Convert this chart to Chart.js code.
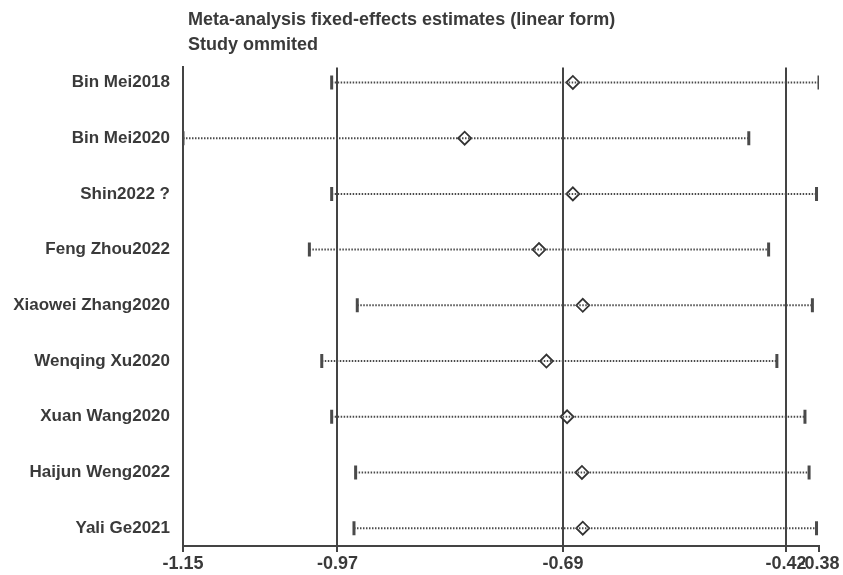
<!DOCTYPE html>
<html>
<head>
<meta charset="utf-8">
<script src="https://cdn.jsdelivr.net/npm/chart.js@4"></script>
<style>
  body { margin: 0; background: #fff; }
  #wrap { width: 843px; height: 575px; }
</style>
</head>
<body>
<div id="wrap"><canvas id="influence-chart"></canvas></div>
<script>
// studies omitted, top to bottom
const studies = [
  "Bin Mei2018",
  "Bin Mei2020",
  "Shin2022 ?",
  "Feng Zhou2022",
  "Xiaowei Zhang2020",
  "Wenqing Xu2020",
  "Xuan Wang2020",
  "Haijun Weng2022",
  "Yali Ge2021",
];
const estimates = [-0.678, -0.809, -0.678, -0.719, -0.666, -0.710, -0.685, -0.667, -0.666];
const lowerCI = [-0.970, -1.150, -0.970, -0.997, -0.939, -0.982, -0.970, -0.941, -0.943];
const upperCI = [-0.380, -0.465, -0.383, -0.441, -0.388, -0.431, -0.397, -0.392, -0.383];

// x axis ticks (min, pooled lower, pooled estimate, pooled upper, max)
const tickValues = [-1.15, -0.963, -0.69, -0.42, -0.38];
const tickLabels = ["-1.15", "-0.97", "-0.69", "-0.42", "-0.38"];

const ink = "#3a3a3a";
const family = "'Liberation Sans', Arial, sans-serif";

// one dotted line per study, with vertical end caps
const ciSets = studies.map((s, i) => ({
  label: s,
  data: [
    { x: lowerCI[i], y: i + 1 },
    { x: upperCI[i], y: i + 1 },
  ],
  showLine: true,
  borderColor: "#4a4a4a",
  borderWidth: 2,
  borderDash: [1.5, 1.5],
  pointStyle: "line",
  rotation: 90,
  pointRadius: 7,
  pointBorderWidth: 3,
  pointBorderColor: "#4a4a4a",
}));

new Chart(document.getElementById("influence-chart"), {
  type: "scatter",
  data: {
    datasets: [
      ...ciSets,
      {
        label: "estimate",
        data: estimates.map((v, i) => ({ x: v, y: i + 1 })),
        pointStyle: "rectRot",
        pointRadius: 6.5,
        pointBackgroundColor: "#fff",
        pointBorderColor: "#333",
        pointBorderWidth: 1.8,
      },
    ],
  },
  options: {
    responsive: true,
    maintainAspectRatio: false,
    animation: false,
    layout: { padding: { left: 0, right: 24, top: 0, bottom: 0 } },
    plugins: {
      legend: { display: false },
      tooltip: { enabled: false },
      title: {
        display: true,
        text: [" Meta-analysis fixed-effects estimates (linear form)", " Study ommited"],
        align: "start",
        fullSize: false,
        color: ink,
        font: { family: family, size: 18, weight: "bold", lineHeight: 1.4 },
        padding: { top: 7, bottom: 10 },
      },
    },
    scales: {
      x: {
        type: "linear",
        min: -1.15,
        max: -0.38,
        afterBuildTicks: (axis) => {
          axis.ticks = tickValues.map((v) => ({ value: v }));
        },
        afterFit: (axis) => {
          axis.height = 29;
        },
        ticks: {
          autoSkip: false,
          maxRotation: 0,
          padding: 1,
          color: ink,
          font: { family: family, size: 18, weight: "bold" },
          callback: (value, index) => tickLabels[index],
        },
        grid: {
          color: (ctx) => (ctx.index === tickValues.length - 1 ? "rgba(0,0,0,0)" : "#444"),
          tickColor: "#444",
          lineWidth: 2,
          tickLength: 6,
        },
        border: { display: true, color: "#444", width: 2 },
      },
      y: {
        type: "linear",
        reverse: true,
        min: 0.73,
        max: 9.32,
        afterBuildTicks: (axis) => {
          axis.ticks = studies.map((s, i) => ({ value: i + 1 }));
        },
        afterFit: (axis) => {
          axis.width = 183;
        },
        ticks: {
          autoSkip: false,
          padding: 5,
          color: ink,
          font: { family: family, size: 17, weight: "bold" },
          callback: (value, index) => studies[index],
        },
        grid: { display: false },
        border: { display: true, color: "#444", width: 2 },
      },
    },
  },
});
</script>
</body>
</html>
